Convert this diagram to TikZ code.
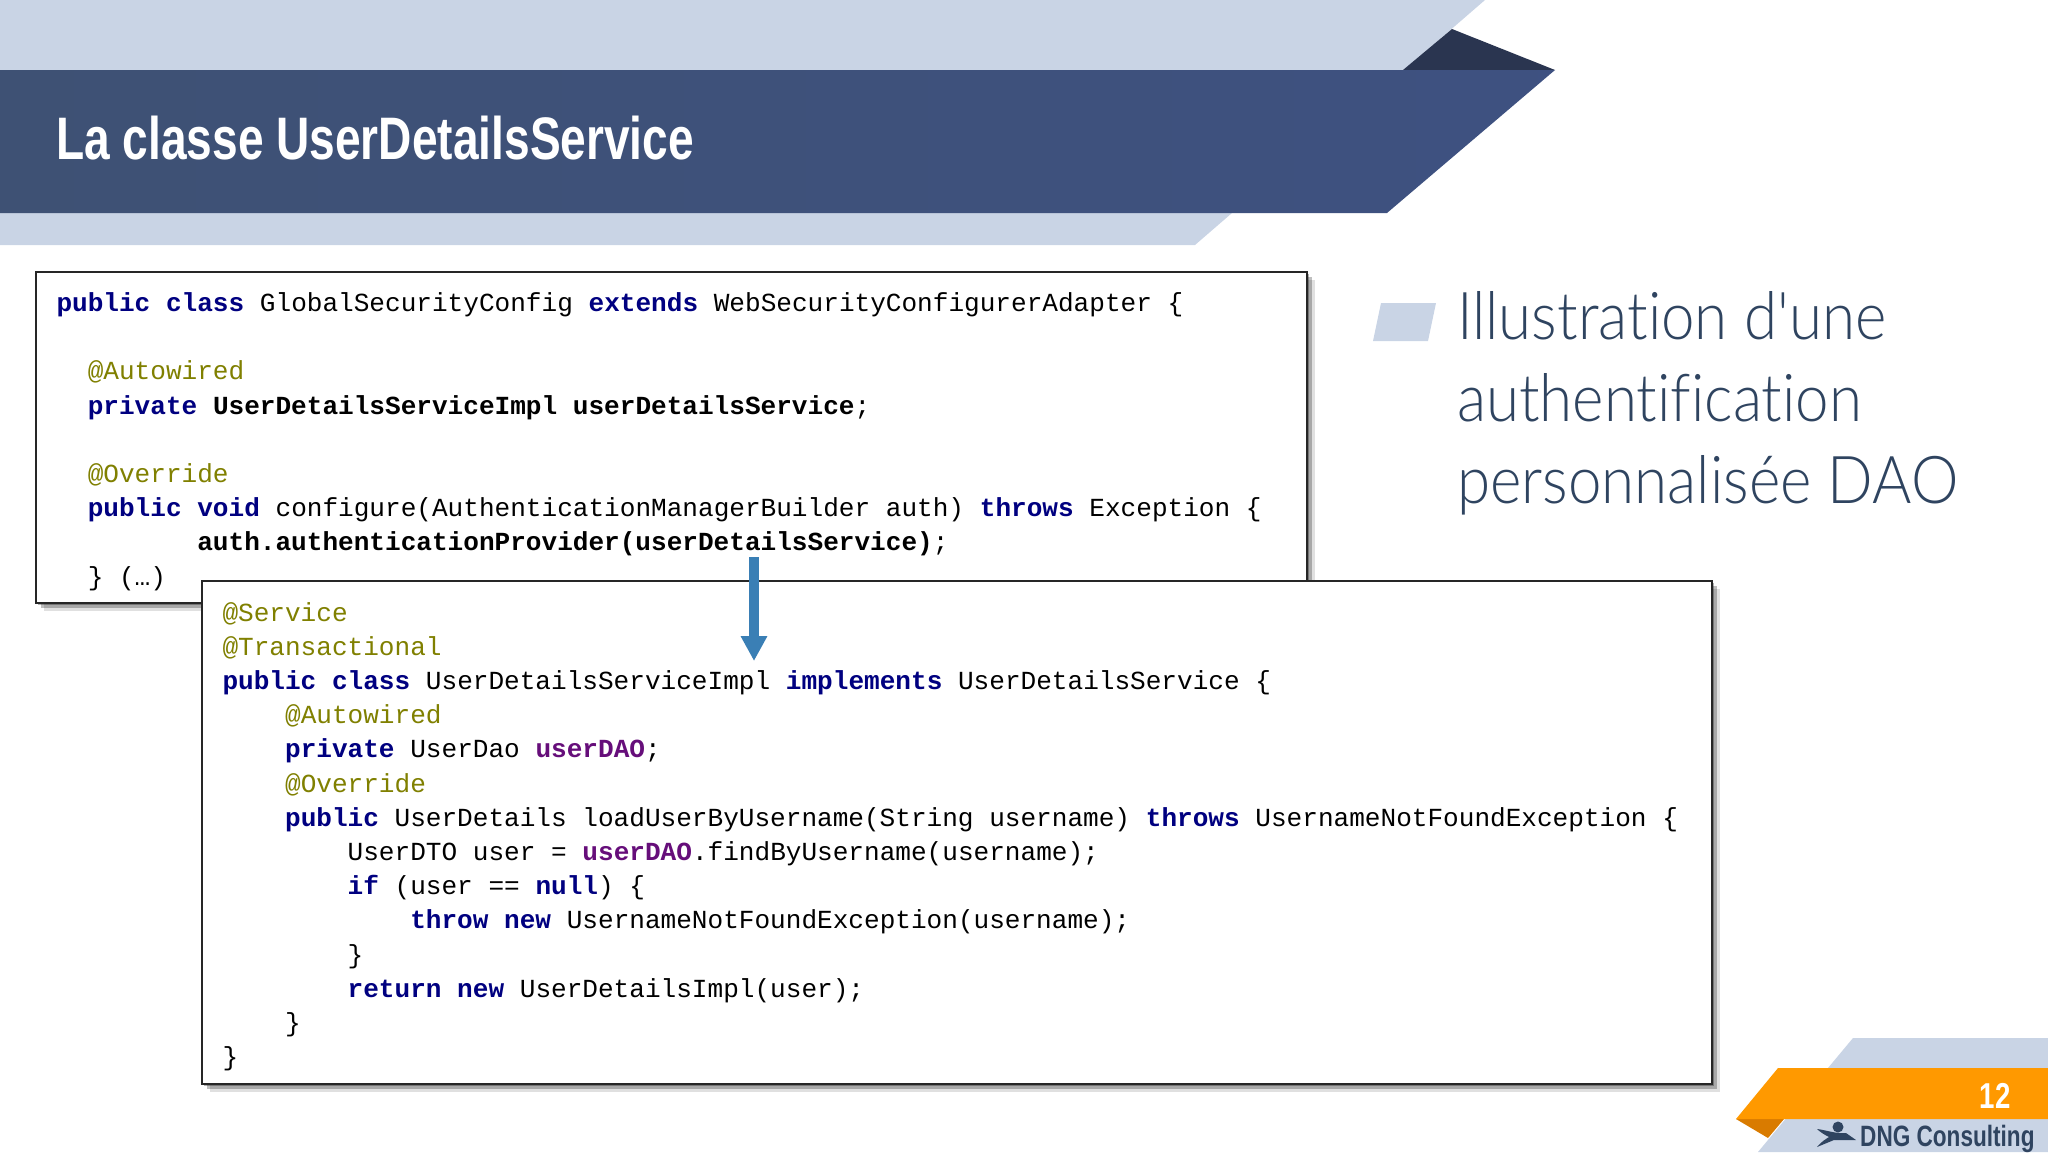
\documentclass[tikz,border=0pt]{standalone}
\usepackage{fontspec}
\setmainfont{Liberation Sans}
\setmonofont{Liberation Mono}
\newfontfamily\narrowfont[FakeStretch=0.768,BoldFont={Liberation Sans Bold}]{Liberation Sans}
\newfontfamily\lightfont[FakeStretch=0.91,Ligatures=NoCommon]{Lato Light}
\usetikzlibrary{arrows.meta,shadows}
\definecolor{bandlight}{HTML}{C9D4E5}
\definecolor{banddark}{HTML}{41557A}
\definecolor{bandnavy}{HTML}{2A3550}
\definecolor{orangemain}{HTML}{FF9900}
\definecolor{orangedark}{HTML}{D97B00}
\definecolor{slatetext}{HTML}{2F4460}
\definecolor{kwcolor}{HTML}{000080}
\definecolor{ancolor}{HTML}{808000}
\definecolor{fdcolor}{HTML}{660E7A}
\definecolor{arrowblue}{HTML}{3A7FB5}
\newlength{\charw}
\setlength{\charw}{15.65pt}
\newcommand{\ind}[1]{\hspace*{#1\charw}}
\newcommand{\kw}[1]{\textcolor{kwcolor}{\textbf{#1}}}
\newcommand{\an}[1]{\textcolor{ancolor}{#1}}
\newcommand{\fd}[1]{\textcolor{fdcolor}{\textbf{#1}}}
\newcommand{\firstline}{\spaceskip=\charw\relax\xspaceskip=\charw\relax\rule{0pt}{27pt}}
\tikzset{
  codebox/.style={draw=black!85, line width=2pt, fill=white, anchor=north west, align=left,
    inner xsep=20.5pt, inner ysep=10pt,
    font=\fontsize{26.08}{34.2}\selectfont\ttfamily,
    drop shadow={shadow xshift=2pt,shadow yshift=-2pt,fill=black,opacity=.3},
    drop shadow={shadow xshift=5pt,shadow yshift=-5pt,fill=black,opacity=.25},
    drop shadow={shadow xshift=8pt,shadow yshift=-8pt,fill=black,opacity=.12}},
  link/.style={arrowblue, line width=10pt, -{Triangle[width=25pt,length=25pt]}}
}
\begin{document}
\begin{tikzpicture}[x=1pt,y=-1pt]
\useasboundingbox (0,0) rectangle (2048,1152);
% header
\fill[bandlight] (0,0) -- (1485,0) -- (1403,71) -- (0,71) -- cycle;
\fill[bandlight] (0,213) -- (1232,213) -- (1195,245) -- (0,245) -- cycle;
\fill[bandnavy] (1403,70) -- (1452,29) -- (1555,70) -- cycle;
\shade[left color=banddark!95!black, right color=banddark!95!blue] (0,70) -- (1555,70) -- (1387,213) -- (0,213) -- cycle;
\node[anchor=base west, inner sep=0pt, text=white, font=\fontsize{60}{60}\selectfont\narrowfont\bfseries] (title) at (56,159) {La classe UserDetailsService};
% bullet
\fill[bandlight] (1381,303) -- (1436,303) -- (1428,341) -- (1373,341) -- cycle;
\node[anchor=north west, inner sep=0pt, align=left, text=slatetext, font=\fontsize{66}{82}\selectfont\lightfont] (bullet) at (1457,291) {Illustration d'une\\authentification\\personnalisée DAO};
% code
\node[codebox, text width=1230pt, minimum height=331pt] (config) at (35,271) {%
\firstline\kw{public class} GlobalSecurityConfig \kw{extends} WebSecurityConfigurerAdapter \{\\
\mbox{}\\
\ind{2}\an{@Autowired}\\
\ind{2}\kw{private} \textbf{UserDetailsServiceImpl userDetailsService};\\
\mbox{}\\
\ind{2}\an{@Override}\\
\ind{2}\kw{public void} configure(AuthenticationManagerBuilder auth) \kw{throws} Exception \{\\
\ind{9}\textbf{auth.authenticationProvider(userDetailsService)};\\
\ind{2}\} (…)};
\node[codebox, text width=1469pt, minimum height=503pt] (impl) at (201,580) {%
\firstline\an{@Service}\\
\an{@Transactional}\\
\kw{public class} UserDetailsServiceImpl \kw{implements} UserDetailsService \{\\
\ind{4}\an{@Autowired}\\
\ind{4}\kw{private} UserDao \fd{userDAO};\\
\ind{4}\an{@Override}\\
\ind{4}\kw{public} UserDetails loadUserByUsername(String username) \kw{throws} UsernameNotFoundException \{\\
\ind{8}UserDTO user = \fd{userDAO}.findByUsername(username);\\
\ind{8}\kw{if} (user == \kw{null}) \{\\
\ind{12}\kw{throw new} UsernameNotFoundException(username);\\
\ind{8}\}\\
\ind{8}\kw{return new} UserDetailsImpl(user);\\
\ind{4}\}\\
\}};
\coordinate (linkstart) at (754,557);
\coordinate (linkend) at (754,661);
\draw[link] (linkstart) -- (linkend);
% footer
\fill[bandlight] (1853,1038) -- (2048,1038) -- (2048,1152) -- (1758,1152) -- cycle;
\fill[orangedark] (1736,1119) -- (1784,1119) -- (1768,1138) -- cycle;
\fill[orangemain] (1778,1068) -- (2048,1068) -- (2048,1119) -- (1736,1119) -- cycle;
\node[text=white, inner sep=0pt, font=\fontsize{36}{36}\selectfont\narrowfont\bfseries] (pagenum) at (1995,1096) {12};
\node[anchor=base west, inner sep=0pt, text=slatetext, font=\fontsize{29.4}{30}\selectfont\narrowfont\bfseries] (company) at (1860,1146) {DNG Consulting};
% logo
\fill[slatetext] (1838,1127) circle (5.5);
\fill[slatetext] (1817,1129) .. controls (1826,1130) and (1836,1134) .. (1846,1133) -- (1856,1140) -- (1834,1140) -- (1817,1147) .. controls (1822,1141) and (1826,1139) .. (1829,1137) .. controls (1825,1135) and (1820,1132) .. (1817,1129) -- cycle;
\end{tikzpicture}
\end{document}
